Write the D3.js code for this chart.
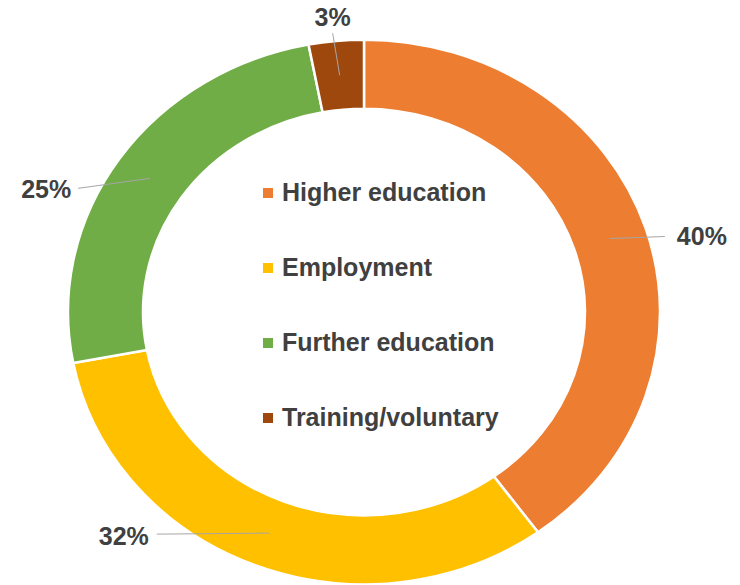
<!DOCTYPE html>
<html>
<head>
<meta charset="utf-8">
<script src="https://cdn.jsdelivr.net/npm/d3@7"></script>
<style>
  html, body { margin: 0; padding: 0; background: #ffffff; }
  svg { display: block; font-family: "Liberation Sans", Arial, Helvetica, sans-serif; }
</style>
</head>
<body>
<svg id="chart" width="740" height="585"></svg>
<script>
// Destinations of leavers, in percent
const categories = ["Higher education", "Employment", "Further education", "Training/voluntary"];
const values = [40, 32, 25, 3];
const colors = ["#ED7D31", "#FFC000", "#70AD47", "#9E480E"];

// Layout
const width = 740, height = 585;
const cx = 364, cy = 312;
const outerR = 296, innerR = 221;
const yScale = 0.92;           // ring is drawn slightly flattened
// Leader line end relative to the slice centroid, and text anchor relative to that end
const leaders = [
  { dx: 55,   dy: -2,  tx: 12, ty: 8,  anchor: "start" },
  { dx: -112, dy: 1,   tx: -8, ty: 11, anchor: "end" },
  { dx: -72,  dy: 10,  tx: -7, ty: 10, anchor: "end" },
  { dx: -7,   dy: -42, tx: 0,  ty: -7, anchor: "middle" }
];

const svg = d3.select("#chart");

const pie = d3.pie().sort(null).value(d => d)(values);
const arc = d3.arc().innerRadius(innerR).outerRadius(outerR);

const ring = svg.append("g")
  .attr("transform", `translate(${cx},${cy}) scale(1,${yScale})`);

ring.selectAll("path")
  .data(pie)
  .join("path")
  .attr("d", arc)
  .attr("fill", (d, i) => colors[i])
  .attr("stroke", "#ffffff")
  .attr("stroke-width", 2.5)
  .attr("vector-effect", "non-scaling-stroke");

// Data labels with leader lines
const labels = svg.append("g");
pie.forEach((d, i) => {
  const c = arc.centroid(d);
  const sx = cx + c[0], sy = cy + c[1] * yScale;
  const L = leaders[i];
  const ex = sx + L.dx, ey = sy + L.dy;
  labels.append("line")
    .attr("x1", sx).attr("y1", sy)
    .attr("x2", ex).attr("y2", ey)
    .attr("stroke", "#a6a6a6")
    .attr("stroke-width", 1);
  labels.append("text")
    .attr("x", ex + L.tx)
    .attr("y", ey + L.ty)
    .attr("text-anchor", L.anchor)
    .attr("font-size", 25)
    .attr("font-weight", "bold")
    .attr("fill", "#404040")
    .text(values[i] + "%");
});

// Legend in the hole of the ring
const legendX = 263, legendY0 = 201, legendStep = 75;
const legend = svg.append("g");
categories.forEach((name, i) => {
  const y = legendY0 + i * legendStep;
  legend.append("rect")
    .attr("x", legendX)
    .attr("y", y - 13)
    .attr("width", 10)
    .attr("height", 10)
    .attr("fill", colors[i]);
  legend.append("text")
    .attr("x", legendX + 19)
    .attr("y", y)
    .attr("font-size", 25)
    .attr("font-weight", "bold")
    .attr("fill", "#404040")
    .text(name);
});
</script>
</body>
</html>
